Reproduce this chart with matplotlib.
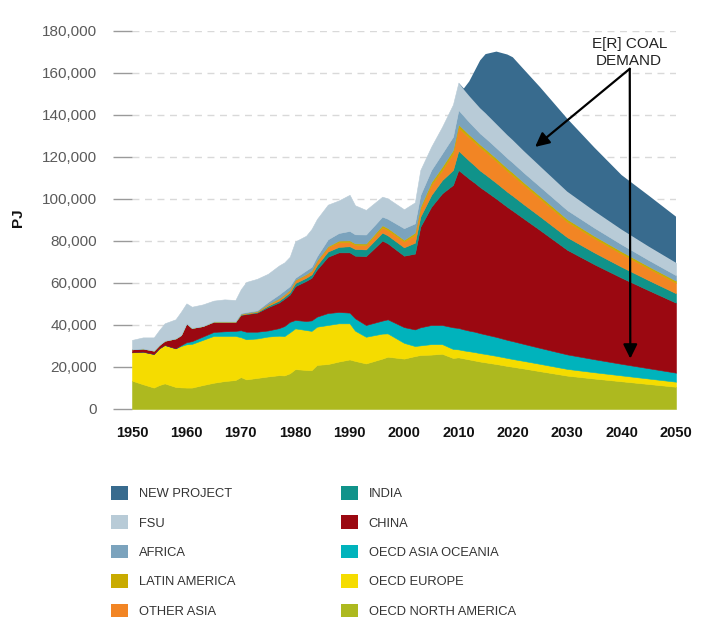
import matplotlib
matplotlib.use("Agg")
import matplotlib.pyplot as plt
from matplotlib.patches import Patch
from matplotlib.ticker import FuncFormatter

plt.rcParams['font.family'] = ['Liberation Sans', 'DejaVu Sans']

# ---------------- data (PJ) ----------------
years = [1950, 1952, 1954, 1955, 1956, 1958, 1959, 1960, 1961, 1963,
         1965, 1967, 1969, 1970, 1971, 1973, 1975, 1977, 1978, 1979,
         1980, 1982, 1983, 1984, 1986, 1988, 1990, 1991, 1993, 1996,
         1997, 2000, 2002, 2003, 2005, 2007, 2009, 2010,
         2011, 2012, 2013, 2014, 2015, 2017, 2019, 2020, 2022, 2025,
         2030, 2035, 2040, 2045, 2050]

oecd_north_america = [13500, 11800, 10200, 11400, 12200, 10500, 10300, 10200, 10200, 11400,
                      12500, 13300, 13800, 15200, 14100, 14800, 15500, 16100, 16000, 17000,
                      19000, 18600, 18500, 21000, 21400, 22600, 23600, 22900, 21700, 24000,
                      24900, 24000, 25200, 25700, 25900, 26300, 24300, 24600,
                      24100, 23600, 23100, 22600, 22200, 21400, 20500, 20100, 19300, 18000,
                      15900, 14500, 13200, 11900, 10600]
oecd_europe = [13500, 15500, 16000, 17500, 18300, 18400, 19700, 20600, 20800, 21500,
               22300, 21500, 21000, 19000, 19100, 18800, 19000, 18800, 18700, 19500,
               19400, 19000, 18700, 18200, 18600, 18200, 17200, 14400, 12700, 11900,
               11100, 7500, 4800, 4600, 5000, 4600, 4300, 3800,
               3800, 3900, 4000, 4000, 4000, 3900, 3800, 3700, 3600, 3500,
               3200, 3000, 2800, 2600, 2400]
oecd_asia_oceania = [0, 0, 0, 0, 0, 0, 400, 1000, 1300, 1600,
                     1900, 2200, 2400, 3300, 3600, 3200, 2900, 3600, 4800, 5000,
                     4000, 4300, 5000, 4800, 5700, 5400, 5100, 5900, 5600, 6200,
                     6700, 7500, 7900, 8600, 9100, 9100, 10300, 10200,
                     10000, 9800, 9700, 9500, 9300, 9000, 8600, 8500, 8100, 7600,
                     6900, 6200, 5500, 4900, 4300]
china = [1400, 1500, 1600, 1600, 2000, 4700, 4800, 9000, 6300, 5000,
         4900, 4600, 4200, 7300, 8400, 9100, 11100, 12200, 13000, 13000,
         16100, 19100, 20300, 22500, 26800, 28400, 28700, 29800, 32800, 38100,
         36200, 34000, 36100, 47900, 56300, 62700, 67800, 75200,
         73800, 72300, 70900, 69500, 68300, 65800, 63300, 62100, 59700, 56100,
         49800, 45200, 41000, 37100, 33300]
india = [0, 0, 0, 0, 0, 0, 0, 0, 0, 0,
         0, 0, 100, 200, 200, 300, 700, 900, 1000, 1100,
         1500, 1500, 1600, 2000, 2500, 2600, 2900, 3200, 3200, 3800,
         3800, 4000, 5200, 4800, 5600, 6300, 7100, 9200,
         8900, 8600, 8200, 7900, 7800, 7500, 7200, 7100, 6800, 6500,
         6000, 5600, 5200, 4800, 4500]
other_asia = [0, 0, 0, 0, 0, 0, 0, 0, 0, 0,
              0, 0, 100, 200, 200, 300, 600, 900, 900, 1000,
              1300, 1300, 1400, 1800, 2000, 2200, 2000, 2000, 2000, 2500,
              2500, 2800, 3700, 3500, 4800, 4800, 7900, 11000,
              11000, 11000, 11100, 11100, 10900, 10400, 9900, 9700, 9200, 8500,
              7400, 6800, 6200, 5600, 5000]
latin_america = [0, 0, 0, 0, 0, 0, 0, 0, 0, 0,
                 0, 0, 0, 100, 100, 100, 200, 200, 200, 200,
                 200, 400, 400, 500, 500, 800, 800, 700, 800, 1000,
                 1000, 800, 1100, 1200, 1300, 1600, 1600, 1500,
                 1500, 1400, 1300, 1300, 1300, 1300, 1300, 1300, 1200, 1200,
                 1200, 1100, 1100, 1000, 1000]
africa = [100, 100, 100, 100, 100, 100, 100, 100, 100, 100,
          200, 200, 200, 400, 500, 400, 1000, 1800, 1900, 1700,
          1000, 1800, 1800, 2000, 3300, 3600, 4500, 4300, 4300, 4100,
          4400, 5500, 4400, 5600, 5800, 6300, 6400, 6900,
          6400, 6000, 5600, 5300, 5200, 5000, 4900, 4800, 4700, 4500,
          4300, 3900, 3400, 3000, 2600]
fsu = [4400, 5200, 6200, 7000, 8200, 9000, 11000, 9400, 10000, 10200,
       9800, 10400, 10100, 11300, 14300, 15000, 13400, 13800, 13300, 14000,
       17300, 16500, 18000, 17700, 16500, 15500, 17200, 13800, 11700, 9500,
       9700, 9000, 10000, 11900, 11100, 12700, 15300, 13000,
       12600, 12400, 12200, 12000, 11800, 11300, 10900, 10700, 10300, 9700,
       8800, 7900, 7000, 6400, 5900]
new_project = [0, 0, 0, 0, 0, 0, 0, 0, 0, 0,
               0, 0, 0, 0, 0, 0, 0, 0, 0, 0,
               0, 0, 0, 0, 0, 0, 0, 0, 0, 0,
               0, 0, 0, 0, 0, 0, 0, 0,
               500, 7000, 14900, 22800, 28200, 34600, 38400, 39500, 38900, 37700,
               34800, 30300, 26000, 24300, 22000]

series = [oecd_north_america, oecd_europe, oecd_asia_oceania, china, india,
          other_asia, latin_america, africa, fsu, new_project]
labels = ['OECD NORTH AMERICA', 'OECD EUROPE', 'OECD ASIA OCEANIA', 'CHINA', 'INDIA',
          'OTHER ASIA', 'LATIN AMERICA', 'AFRICA', 'FSU', 'NEW PROJECT']
colors = ['#adb91f', '#f5dc00', '#00b3bc', '#9b0811', '#10938a',
          '#f28524', '#c9ab00', '#7ba3bd', '#b8cbd7', '#386b8e']

yticks = [0, 20000, 40000, 60000, 80000, 100000, 120000, 140000, 160000, 180000]
xticks = [1950, 1960, 1970, 1980, 1990, 2000, 2010, 2020, 2030, 2040, 2050]

# ---------------- figure ----------------
fig = plt.figure(figsize=(7.10, 6.21), dpi=100)
ax = fig.add_axes([132 / 710, (621 - 409) / 621, 544 / 710, 378 / 621])

polys = ax.stackplot(years, *series, colors=colors, labels=labels, linewidth=0, zorder=2)
for p, c, lab in zip(polys, colors, labels):
    if lab != 'NEW PROJECT':
        p.set_edgecolor(c)
        p.set_linewidth(0.4)

ax.set_xlim(1950, 2050)
ax.set_ylim(0, 180000)
ax.set_yticks(yticks)
ax.set_xticks(xticks)
ax.yaxis.set_major_formatter(FuncFormatter(lambda v, p: f"{int(v):,}"))

for s in ax.spines.values():
    s.set_visible(False)

ax.yaxis.grid(True, linestyle=(0, (5, 4)), color='#d9d9d9', linewidth=1, zorder=0)
ax.set_axisbelow(True)
ax.tick_params(axis='y', direction='out', length=14, width=1, color='#9a9a9a',
               pad=11, labelsize=11, labelcolor='#5a5a5a')
ax.tick_params(axis='x', length=0, pad=12, labelsize=10.5, labelcolor='#111111')
for t in ax.get_xticklabels():
    t.set_fontweight('bold')

fig.text(18 / 710, 1 - 218 / 621, 'PJ', rotation=90, ha='center', va='center',
         fontsize=11, fontweight='bold', color='#111111')

# annotation
ax.text(2041.4, 169800, 'E[R] COAL\nDEMAND', ha='center', va='center',
        fontsize=11, color='#222222', linespacing=1.25, zorder=5)
arrow_kw = dict(arrowstyle='-|>,head_length=0.85,head_width=0.42', color='black',
                lw=1.6, shrinkA=0, shrinkB=0, mutation_scale=10)
ax.annotate('', xy=(2024.1, 124800), xytext=(2041.5, 162000), arrowprops=arrow_kw, zorder=5)
ax.annotate('', xy=(2041.6, 24000), xytext=(2041.5, 162000), arrowprops=arrow_kw, zorder=5)

# legend: two columns, reversed stack order
order = list(range(len(labels)))[::-1]
handles = [Patch(facecolor=colors[i], edgecolor='none') for i in order]
leg_labels = [labels[i] for i in order]
common = dict(loc='upper left', frameon=False, borderpad=0, borderaxespad=0,
              handlelength=1.3, handleheight=1.25, handletextpad=0.85,
              labelspacing=1.18, fontsize=9.3, labelcolor='#333333')
leg1 = fig.legend(handles[:5], leg_labels[:5], bbox_to_anchor=(111 / 710, 1 - 486 / 621), **common)
leg2 = fig.legend(handles[5:], leg_labels[5:], bbox_to_anchor=(341 / 710, 1 - 486 / 621), **common)

fig.savefig('out.png', dpi=100)
